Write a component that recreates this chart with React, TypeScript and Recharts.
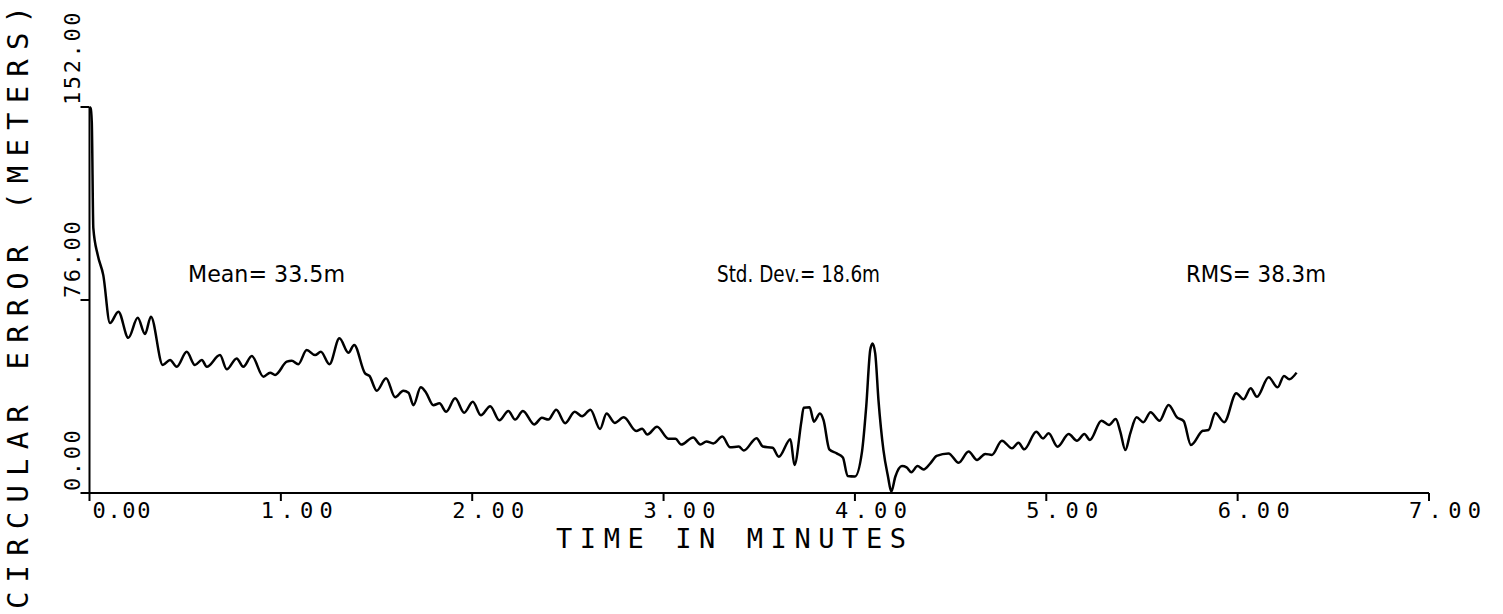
import React from 'react';
import { LineChart, Line, XAxis, YAxis, Customized } from 'recharts';

const times = [
  0, 0.006, 0.012, 0.02, 0.043, 0.072, 0.107, 0.151, 0.203, 0.252, 0.29, 0.321,
  0.383, 0.421, 0.456, 0.508, 0.551, 0.587, 0.613, 0.682, 0.717, 0.769, 0.804, 0.848,
  0.909, 0.944, 0.97, 1.031, 1.057, 1.091, 1.135, 1.179, 1.209, 1.254, 1.306, 1.353,
  1.383, 1.44, 1.463, 1.501, 1.55, 1.597, 1.64, 1.667, 1.693, 1.731, 1.759, 1.797,
  1.829, 1.864, 1.911, 1.958, 2.003, 2.045, 2.094, 2.142, 2.189, 2.224, 2.265, 2.324,
  2.364, 2.398, 2.439, 2.486, 2.536, 2.574, 2.618, 2.668, 2.702, 2.745, 2.792, 2.857,
  2.888, 2.915, 2.966, 3.025, 3.062, 3.092, 3.155, 3.192, 3.224, 3.26, 3.307, 3.348,
  3.393, 3.419, 3.486, 3.519, 3.57, 3.602, 3.663, 3.684, 3.72, 3.732, 3.763, 3.786,
  3.817, 3.836, 3.866, 3.905, 3.937, 3.962, 4.0, 4.037, 4.059, 4.08, 4.092, 4.106,
  4.123, 4.149, 4.173, 4.19, 4.211, 4.246, 4.27, 4.295, 4.327, 4.359, 4.394, 4.427,
  4.489, 4.542, 4.594, 4.638, 4.681, 4.716, 4.768, 4.821, 4.855, 4.885, 4.948, 4.983,
  5.012, 5.059, 5.117, 5.16, 5.199, 5.228, 5.288, 5.328, 5.363, 5.387, 5.413, 5.439,
  5.472, 5.507, 5.545, 5.592, 5.639, 5.683, 5.718, 5.756, 5.818, 5.848, 5.883, 5.93,
  5.993, 6.031, 6.068, 6.101, 6.162, 6.209, 6.242, 6.27, 6.308,
];

const errors = [
  152, 151.5, 146, 104.3, 93.7, 85.8, 66.9, 71.4, 61.1, 69.0, 62.6, 69.4,
  50.4, 52.4, 49.7, 55.6, 50.4, 52.4, 49.7, 54.3, 48.7, 53.0, 49.7, 53.9,
  45.8, 47.4, 46.5, 51.7, 52.1, 50.7, 56.3, 54.3, 55.6, 50.7, 60.9, 55.2,
  58.3, 47.1, 46.1, 40.3, 45.2, 37.7, 40.3, 39.5, 34.6, 41.6, 39.5, 34.6,
  35.3, 32.0, 37.3, 31.6, 35.9, 30.6, 34.2, 28.6, 32.3, 28.9, 32.3, 27.0,
  29.6, 28.9, 32.8, 27.5, 32.0, 30.2, 32.8, 25.2, 31.3, 27.6, 29.8, 24.4,
  25.3, 23.0, 26.1, 21.4, 21.4, 19.1, 21.9, 19.1, 20.3, 19.5, 22.2, 18.0,
  18.3, 16.7, 21.6, 18.3, 17.8, 14.3, 21.2, 11.0, 28.1, 33.6, 33.8, 28.1,
  31.3, 28.7, 17.2, 15.6, 14.0, 6.7, 6.5, 16.3, 34.0, 56.3, 58.9, 55.0,
  36.6, 16.9, 6.4, 0.5, 6.4, 10.6, 10.1, 8.2, 10.6, 9.3, 11.7, 14.6,
  15.6, 11.9, 16.3, 13.0, 15.4, 15.0, 20.6, 17.6, 19.8, 17.2, 24.1, 21.5,
  23.5, 18.2, 23.2, 20.6, 23.2, 20.9, 28.5, 26.8, 29.1, 24.1, 16.9, 23.5,
  29.8, 27.9, 31.8, 28.5, 34.7, 29.8, 28.3, 18.9, 24.5, 24.8, 31.5, 27.9,
  39.3, 36.9, 41.2, 37.9, 45.6, 41.6, 46.1, 44.8, 47.4,
];

const xTicks = [0, 1, 2, 3, 4, 5, 6, 7];
const xTickLabels = ['0.00', '1.00', '2.00', '3.00', '4.00', '5.00', '6.00', '7.00'];
const yTicks = [0, 76, 152];
const yTickLabels = ['0.00', '76.00', '152.00'];
const statLabels = ['Mean= 33.5m', 'Std. Dev.= 18.6m', 'RMS= 38.3m'];
const xTitle = 'TIME IN MINUTES';
const yTitle = 'CIRCULAR ERROR (METERS)';

const data = times.map((t, i) => ({ t, e: errors[i] }));

const MONO = '"DejaVu Sans Mono", monospace';

const XTick = (props: any) => {
  const { x, y, payload } = props;
  const idx = xTicks.indexOf(payload.value);
  const startX = idx === 0 ? x + 3 : x - 20;
  return (
    <text x={startX} y={y + 15} textAnchor="start" fontFamily={MONO} fontSize={22}
      textLength={idx === 0 ? 58 : 72} lengthAdjust="spacing" fill="#000">
      {xTickLabels[idx]}
    </text>
  );
};

const YTick = (props: any) => {
  const { x, y, payload } = props;
  const idx = yTicks.indexOf(payload.value);
  const bx = x + 1.5;
  const by = y - 2;
  return (
    <text x={bx} y={by} transform={`rotate(-90, ${bx}, ${by})`} textAnchor="start"
      fontFamily={MONO} fontSize={22} letterSpacing={2.6} fill="#000">
      {yTickLabels[idx]}
    </text>
  );
};

const STAT_FONT = '"DejaVu Sans", sans-serif';

const Annotations = () => (
  <g>
    <text x={188} y={282} fontFamily={STAT_FONT} fontSize={23}
      textLength={157} lengthAdjust="spacingAndGlyphs" fill="#000">{statLabels[0]}</text>
    <text x={717} y={282} fontFamily={STAT_FONT} fontSize={23}
      textLength={163} lengthAdjust="spacingAndGlyphs" fill="#000">{statLabels[1]}</text>
    <text x={1186} y={282} fontFamily={STAT_FONT} fontSize={23}
      textLength={140} lengthAdjust="spacingAndGlyphs" fill="#000">{statLabels[2]}</text>
    <text x={556} y={548} fontFamily={MONO} fontSize={27} textLength={350}
      lengthAdjust="spacing" fill="#000">{xTitle}</text>
    <text x={28} y={609} transform="rotate(-90, 28, 609)" fontFamily={MONO} fontSize={29}
      textLength={603} lengthAdjust="spacing" fill="#000">{yTitle}</text>
  </g>
);

export default function App() {
  return (
    <div style={{ position: 'absolute', left: 0, top: 0, width: 1503, height: 614, background: '#fff' }}>
      <LineChart width={1503} height={614} data={data}
        margin={{ top: 107, right: 74, bottom: 0, left: 29 }}>
        <XAxis dataKey="t" type="number" domain={[0, 7]} ticks={xTicks}
          allowDataOverflow tick={<XTick />} tickSize={8} height={121}
          axisLine={{ stroke: '#000', strokeWidth: 2 }} tickLine={{ stroke: '#000', strokeWidth: 2 }} />
        <YAxis type="number" domain={[0, 152]} ticks={yTicks} width={60.5}
          tick={<YTick />} tickSize={9}
          axisLine={{ stroke: '#000', strokeWidth: 2 }} tickLine={{ stroke: '#000', strokeWidth: 2 }} />
        <Line type="monotone" dataKey="e" stroke="#000" strokeWidth={2.5} dot={false}
          isAnimationActive={false} />
        <Customized component={Annotations} />
      </LineChart>
    </div>
  );
}
